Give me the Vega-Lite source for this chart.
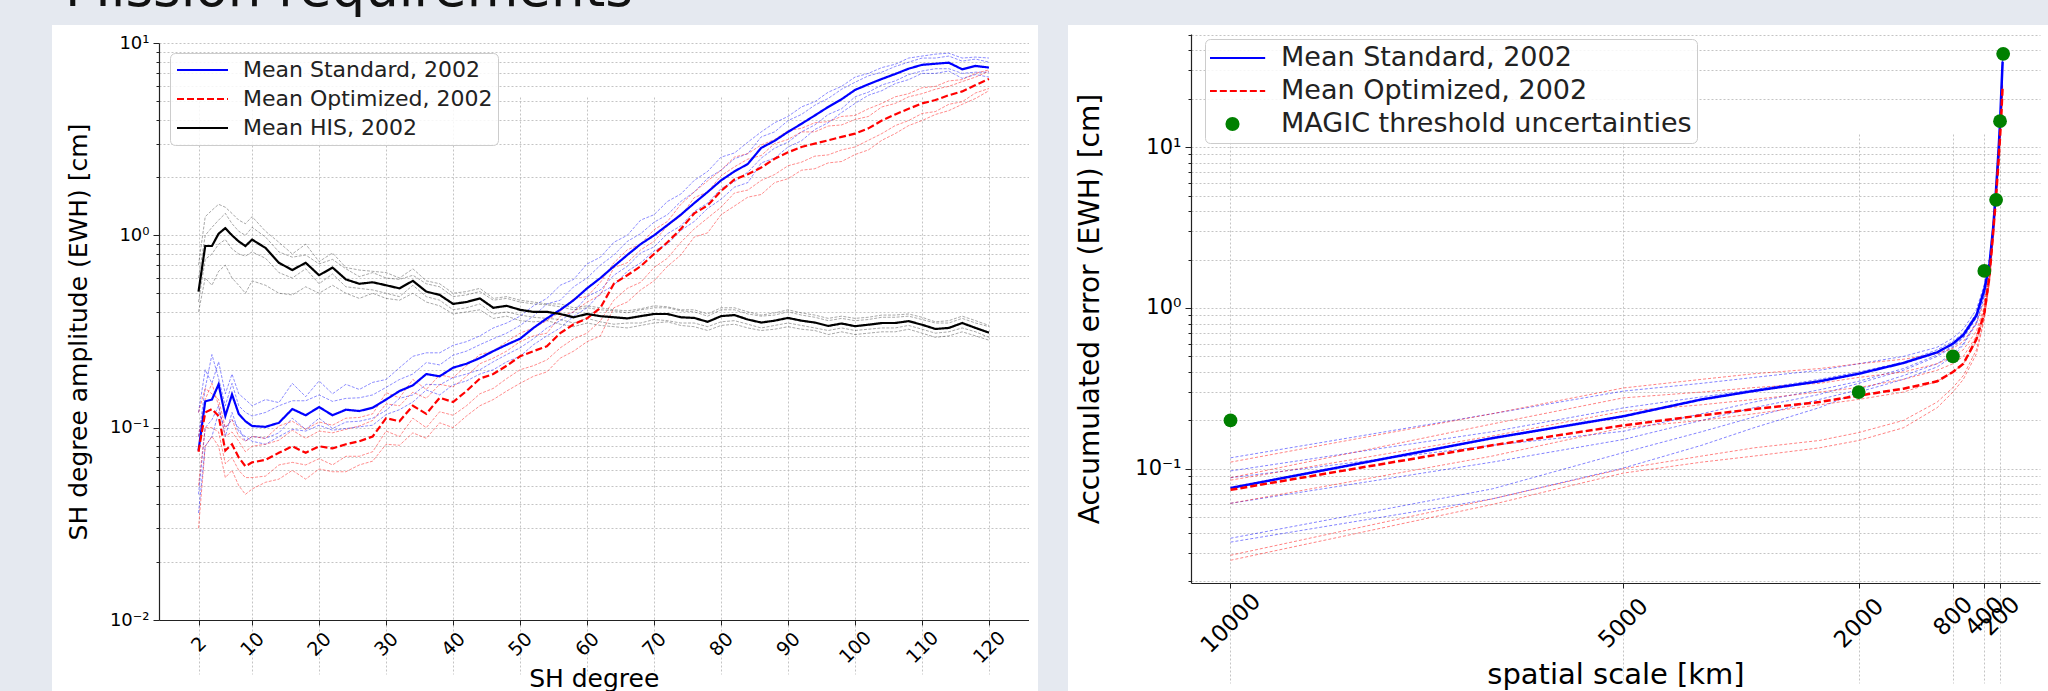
{
"$schema": "https://vega.github.io/schema/vega-lite/v6.json",
"background": "#e5e9f0",
"padding": {"left": 52, "top": -37, "right": 0, "bottom": 0},
"autosize": {"type": "pad"},
"title": {"text": "Mission requirements", "anchor": "start", "frame": "bounds", "fontSize": 53, "font": "DejaVu Sans", "fontWeight": "normal", "color": "#111", "offset": -35, "baseline": "alphabetic", "dx": 13},
"spacing": 30,
"bounds": "flush",
"resolve": {"scale": {"color": "independent", "strokeDash": "independent"}, "legend": {"color": "independent", "strokeDash": "independent"}},
"config": {
  "view": {"fill": "white", "stroke": null},
  "font": "DejaVu Sans",
  "axis": {"labelFont": "DejaVu Sans", "titleFont": "DejaVu Sans", "labelColor": "#000", "titleColor": "#000", "titleFontWeight": "normal", "domainColor": "#222", "domainWidth": 1.2, "tickColor": "#222", "tickWidth": 1, "gridColor": "#b5b5b5", "gridDash": [2, 2], "gridWidth": 0.8, "labelOverlap": false, "labelFlush": false, "labelBound": false},
  "legend": {"labelFont": "DejaVu Sans", "labelColor": "#222", "labelLimit": 0, "strokeColor": "#cccccc", "fillColor": "rgba(255,255,255,0.85)", "cornerRadius": 5}
},
"hconcat": [
{
  "width": 986, "height": 667,
  "data": {"values": [
{"d":2,"bm":0.076,"rm":0.075,"km":0.51,"b1":0.12,"b2":0.045,"b3":0.09,"b4":0.036,"r1":0.12,"r2":0.03,"r3":0.09,"r4":0.05,"k1":0.7,"k2":0.4,"k3":0.6,"k4":0.45},
{"d":3,"bm":0.137,"rm":0.12,"km":0.88,"b1":0.2,"b2":0.1,"b3":0.16,"b4":0.08,"r1":0.16,"r2":0.08,"r3":0.14,"r4":0.1,"k1":1.25,"k2":0.6,"k3":1.0,"k4":0.75},
{"d":4,"bm":0.14,"rm":0.125,"km":0.88,"b1":0.17,"b2":0.11,"b3":0.24,"b4":0.09,"r1":0.15,"r2":0.09,"r3":0.17,"r4":0.1,"k1":1.35,"k2":0.55,"k3":1.1,"k4":0.8},
{"d":5,"bm":0.168,"rm":0.115,"km":1.02,"b1":0.22,"b2":0.13,"b3":0.18,"b4":0.12,"r1":0.14,"r2":0.08,"r3":0.13,"r4":0.095,"k1":1.45,"k2":0.65,"k3":1.2,"k4":0.9},
{"d":6,"bm":0.115,"rm":0.076,"km":1.09,"b1":0.15,"b2":0.09,"b3":0.13,"b4":0.1,"r1":0.1,"r2":0.055,"r3":0.09,"r4":0.065,"k1":1.4,"k2":0.7,"k3":1.3,"k4":0.95},
{"d":7,"bm":0.149,"rm":0.082,"km":1.0,"b1":0.19,"b2":0.12,"b3":0.17,"b4":0.11,"r1":0.11,"r2":0.06,"r3":0.095,"r4":0.07,"k1":1.3,"k2":0.6,"k3":1.15,"k4":0.85},
{"d":8,"bm":0.118,"rm":0.07,"km":0.93,"b1":0.15,"b2":0.095,"b3":0.13,"b4":0.1,"r1":0.09,"r2":0.05,"r3":0.085,"r4":0.06,"k1":1.2,"k2":0.55,"k3":1.05,"k4":0.8},
{"d":9,"bm":0.108,"rm":0.063,"km":0.88,"b1":0.14,"b2":0.09,"b3":0.12,"b4":0.085,"r1":0.085,"r2":0.045,"r3":0.075,"r4":0.055,"k1":1.15,"k2":0.5,"k3":1.0,"k4":0.78},
{"d":10,"bm":0.102,"rm":0.066,"km":0.95,"b1":0.13,"b2":0.085,"b3":0.115,"b4":0.09,"r1":0.09,"r2":0.048,"r3":0.08,"r4":0.055,"k1":1.25,"k2":0.58,"k3":1.1,"k4":0.82},
{"d":12,"bm":0.101,"rm":0.068,"km":0.86,"b1":0.14,"b2":0.082,"b3":0.12,"b4":0.088,"r1":0.088,"r2":0.052,"r3":0.082,"r4":0.056,"k1":1.05,"k2":0.55,"k3":0.98,"k4":0.76},
{"d":14,"bm":0.106,"rm":0.074,"km":0.72,"b1":0.135,"b2":0.09,"b3":0.13,"b4":0.094,"r1":0.102,"r2":0.054,"r3":0.086,"r4":0.064,"k1":0.92,"k2":0.5,"k3":0.82,"k4":0.64},
{"d":16,"bm":0.125,"rm":0.08,"km":0.66,"b1":0.17,"b2":0.098,"b3":0.138,"b4":0.112,"r1":0.108,"r2":0.06,"r3":0.097,"r4":0.066,"k1":0.8,"k2":0.49,"k3":0.77,"k4":0.6},
{"d":18,"bm":0.116,"rm":0.074,"km":0.72,"b1":0.145,"b2":0.096,"b3":0.138,"b4":0.098,"r1":0.098,"r2":0.054,"r3":0.088,"r4":0.064,"k1":0.9,"k2":0.54,"k3":0.79,"k4":0.67},
{"d":20,"bm":0.128,"rm":0.08,"km":0.62,"b1":0.175,"b2":0.103,"b3":0.148,"b4":0.112,"r1":0.107,"r2":0.061,"r3":0.096,"r4":0.069,"k1":0.73,"k2":0.5,"k3":0.71,"k4":0.56},
{"d":22,"bm":0.116,"rm":0.078,"km":0.68,"b1":0.15,"b2":0.097,"b3":0.137,"b4":0.099,"r1":0.103,"r2":0.059,"r3":0.094,"r4":0.064,"k1":0.81,"k2":0.55,"k3":0.75,"k4":0.63},
{"d":24,"bm":0.124,"rm":0.082,"km":0.59,"b1":0.168,"b2":0.099,"b3":0.142,"b4":0.107,"r1":0.112,"r2":0.059,"r3":0.098,"r4":0.071,"k1":0.68,"k2":0.5,"k3":0.67,"k4":0.54},
{"d":26,"bm":0.122,"rm":0.085,"km":0.56,"b1":0.158,"b2":0.101,"b3":0.143,"b4":0.108,"r1":0.113,"r2":0.064,"r3":0.102,"r4":0.071,"k1":0.66,"k2":0.47,"k3":0.61,"k4":0.53},
{"d":28,"bm":0.127,"rm":0.09,"km":0.57,"b1":0.172,"b2":0.103,"b3":0.148,"b4":0.112,"r1":0.118,"r2":0.067,"r3":0.109,"r4":0.075,"k1":0.65,"k2":0.5,"k3":0.64,"k4":0.52},
{"d":30,"bm":0.14,"rm":0.112,"km":0.55,"b1":0.178,"b2":0.117,"b3":0.162,"b4":0.123,"r1":0.152,"r2":0.082,"r3":0.133,"r4":0.096,"k1":0.64,"k2":0.47,"k3":0.6,"k4":0.5},
{"d":32,"bm":0.155,"rm":0.108,"km":0.53,"b1":0.205,"b2":0.124,"b3":0.178,"b4":0.142,"r1":0.143,"r2":0.081,"r3":0.13,"r4":0.09,"k1":0.6,"k2":0.46,"k3":0.59,"k4":0.48},
{"d":34,"bm":0.166,"rm":0.13,"km":0.58,"b1":0.235,"b2":0.136,"b3":0.19,"b4":0.148,"r1":0.178,"r2":0.094,"r3":0.153,"r4":0.112,"k1":0.67,"k2":0.5,"k3":0.62,"k4":0.55},
{"d":36,"bm":0.19,"rm":0.118,"km":0.51,"b1":0.245,"b2":0.157,"b3":0.218,"b4":0.168,"r1":0.158,"r2":0.088,"r3":0.142,"r4":0.1,"k1":0.58,"k2":0.45,"k3":0.56,"k4":0.48},
{"d":38,"bm":0.185,"rm":0.143,"km":0.49,"b1":0.245,"b2":0.148,"b3":0.212,"b4":0.167,"r1":0.188,"r2":0.106,"r3":0.168,"r4":0.121,"k1":0.56,"k2":0.43,"k3":0.54,"k4":0.46},
{"d":40,"bm":0.205,"rm":0.136,"km":0.44,"b1":0.268,"b2":0.167,"b3":0.238,"b4":0.182,"r1":0.182,"r2":0.1,"r3":0.163,"r4":0.116,"k1":0.5,"k2":0.39,"k3":0.48,"k4":0.41},
{"d":42,"bm":0.215,"rm":0.155,"km":0.45,"b1":0.28,"b2":0.175,"b3":0.25,"b4":0.19,"r1":0.21,"r2":0.115,"r3":0.185,"r4":0.13,"k1":0.51,"k2":0.4,"k3":0.49,"k4":0.42},
{"d":44,"bm":0.23,"rm":0.18,"km":0.47,"b1":0.3,"b2":0.19,"b3":0.27,"b4":0.2,"r1":0.24,"r2":0.13,"r3":0.215,"r4":0.15,"k1":0.53,"k2":0.41,"k3":0.51,"k4":0.44},
{"d":46,"bm":0.25,"rm":0.19,"km":0.42,"b1":0.33,"b2":0.2,"b3":0.29,"b4":0.22,"r1":0.25,"r2":0.14,"r3":0.23,"r4":0.16,"k1":0.47,"k2":0.37,"k3":0.46,"k4":0.39},
{"d":48,"bm":0.27,"rm":0.21,"km":0.43,"b1":0.35,"b2":0.22,"b3":0.31,"b4":0.24,"r1":0.28,"r2":0.155,"r3":0.25,"r4":0.18,"k1":0.48,"k2":0.38,"k3":0.47,"k4":0.4},
{"d":50,"bm":0.29,"rm":0.235,"km":0.41,"b1":0.38,"b2":0.235,"b3":0.34,"b4":0.26,"r1":0.31,"r2":0.17,"r3":0.28,"r4":0.2,"k1":0.46,"k2":0.36,"k3":0.45,"k4":0.385},
{"d":52,"bm":0.33,"rm":0.25,"km":0.40,"b1":0.43,"b2":0.27,"b3":0.38,"b4":0.29,"r1":0.33,"r2":0.185,"r3":0.3,"r4":0.21,"k1":0.45,"k2":0.355,"k3":0.44,"k4":0.375},
{"d":54,"bm":0.37,"rm":0.265,"km":0.40,"b1":0.47,"b2":0.3,"b3":0.44,"b4":0.33,"r1":0.36,"r2":0.195,"r3":0.31,"r4":0.225,"k1":0.44,"k2":0.36,"k3":0.435,"k4":0.37},
{"d":56,"bm":0.41,"rm":0.31,"km":0.39,"b1":0.55,"b2":0.33,"b3":0.46,"b4":0.36,"r1":0.4,"r2":0.23,"r3":0.38,"r4":0.26,"k1":0.44,"k2":0.345,"k3":0.425,"k4":0.365},
{"d":58,"bm":0.46,"rm":0.345,"km":0.375,"b1":0.59,"b2":0.38,"b3":0.54,"b4":0.4,"r1":0.47,"r2":0.25,"r3":0.4,"r4":0.29,"k1":0.42,"k2":0.335,"k3":0.41,"k4":0.35},
{"d":60,"bm":0.53,"rm":0.37,"km":0.39,"b1":0.71,"b2":0.42,"b3":0.6,"b4":0.48,"r1":0.48,"r2":0.28,"r3":0.45,"r4":0.31,"k1":0.43,"k2":0.35,"k3":0.42,"k4":0.37},
{"d":62,"bm":0.6,"rm":0.42,"km":0.38,"b1":0.77,"b2":0.5,"b3":0.7,"b4":0.52,"r1":0.57,"r2":0.3,"r3":0.49,"r4":0.36,"k1":0.42,"k2":0.34,"k3":0.41,"k4":0.355},
{"d":64,"bm":0.69,"rm":0.56,"km":0.375,"b1":0.92,"b2":0.55,"b3":0.79,"b4":0.62,"r1":0.72,"r2":0.42,"r3":0.68,"r4":0.46,"k1":0.41,"k2":0.335,"k3":0.405,"k4":0.345},
{"d":66,"bm":0.79,"rm":0.62,"km":0.37,"b1":1.0,"b2":0.65,"b3":0.93,"b4":0.69,"r1":0.84,"r2":0.45,"r3":0.72,"r4":0.53,"k1":0.405,"k2":0.33,"k3":0.395,"k4":0.35},
{"d":68,"bm":0.9,"rm":0.69,"km":0.38,"b1":1.2,"b2":0.72,"b3":1.02,"b4":0.81,"r1":0.9,"r2":0.52,"r3":0.84,"r4":0.57,"k1":0.415,"k2":0.34,"k3":0.41,"k4":0.35},
{"d":70,"bm":1.0,"rm":0.8,"km":0.39,"b1":1.28,"b2":0.83,"b3":1.17,"b4":0.87,"r1":1.07,"r2":0.58,"r3":0.93,"r4":0.68,"k1":0.43,"k2":0.35,"k3":0.42,"k4":0.365},
{"d":72,"bm":1.13,"rm":0.92,"km":0.39,"b1":1.5,"b2":0.9,"b3":1.28,"b4":1.02,"r1":1.18,"r2":0.69,"r3":1.12,"r4":0.76,"k1":0.425,"k2":0.355,"k3":0.42,"k4":0.36},
{"d":74,"bm":1.28,"rm":1.08,"km":0.375,"b1":1.64,"b2":1.06,"b3":1.5,"b4":1.12,"r1":1.45,"r2":0.79,"r3":1.26,"r4":0.92,"k1":0.41,"k2":0.34,"k3":0.405,"k4":0.35},
{"d":76,"bm":1.47,"rm":1.3,"km":0.372,"b1":1.93,"b2":1.18,"b3":1.68,"b4":1.33,"r1":1.68,"r2":0.98,"r3":1.57,"r4":1.08,"k1":0.41,"k2":0.335,"k3":0.4,"k4":0.35},
{"d":78,"bm":1.68,"rm":1.43,"km":0.355,"b1":2.15,"b2":1.38,"b3":1.98,"b4":1.47,"r1":1.92,"r2":1.03,"r3":1.68,"r4":1.23,"k1":0.39,"k2":0.32,"k3":0.38,"k4":0.335},
{"d":80,"bm":1.93,"rm":1.7,"km":0.38,"b1":2.55,"b2":1.54,"b3":2.18,"b4":1.75,"r1":2.18,"r2":1.28,"r3":2.04,"r4":1.4,"k1":0.42,"k2":0.34,"k3":0.41,"k4":0.355},
{"d":82,"bm":2.15,"rm":1.95,"km":0.385,"b1":2.68,"b2":1.78,"b3":2.5,"b4":1.9,"r1":2.55,"r2":1.42,"r3":2.27,"r4":1.66,"k1":0.42,"k2":0.345,"k3":0.41,"k4":0.36},
{"d":84,"bm":2.35,"rm":2.08,"km":0.365,"b1":3.05,"b2":1.88,"b3":2.66,"b4":2.13,"r1":2.66,"r2":1.58,"r3":2.49,"r4":1.72,"k1":0.4,"k2":0.33,"k3":0.39,"k4":0.345},
{"d":86,"bm":2.85,"rm":2.25,"km":0.352,"b1":3.45,"b2":2.38,"b3":3.25,"b4":2.52,"r1":2.95,"r2":1.63,"r3":2.6,"r4":1.93,"k1":0.385,"k2":0.32,"k3":0.38,"k4":0.33},
{"d":88,"bm":3.1,"rm":2.5,"km":0.36,"b1":3.85,"b2":2.52,"b3":3.45,"b4":2.84,"r1":3.15,"r2":1.88,"r3":3.0,"r4":2.07,"k1":0.395,"k2":0.325,"k3":0.385,"k4":0.34},
{"d":90,"bm":3.45,"rm":2.7,"km":0.372,"b1":4.15,"b2":2.88,"b3":3.95,"b4":3.05,"r1":3.5,"r2":1.97,"r3":3.15,"r4":2.3,"k1":0.41,"k2":0.335,"k3":0.4,"k4":0.35},
{"d":92,"bm":3.8,"rm":2.88,"km":0.36,"b1":4.65,"b2":3.1,"b3":4.25,"b4":3.45,"r1":3.6,"r2":2.18,"r3":3.45,"r4":2.4,"k1":0.395,"k2":0.325,"k3":0.385,"k4":0.34},
{"d":94,"bm":4.2,"rm":3.0,"km":0.352,"b1":4.95,"b2":3.55,"b3":4.75,"b4":3.75,"r1":3.85,"r2":2.22,"r3":3.45,"r4":2.58,"k1":0.385,"k2":0.32,"k3":0.375,"k4":0.33},
{"d":96,"bm":4.65,"rm":3.12,"km":0.338,"b1":5.55,"b2":3.85,"b3":5.15,"b4":4.25,"r1":3.9,"r2":2.38,"r3":3.7,"r4":2.62,"k1":0.37,"k2":0.305,"k3":0.36,"k4":0.32},
{"d":98,"bm":5.1,"rm":3.25,"km":0.348,"b1":5.95,"b2":4.35,"b3":5.75,"b4":4.55,"r1":4.15,"r2":2.42,"r3":3.75,"r4":2.78,"k1":0.38,"k2":0.315,"k3":0.37,"k4":0.33},
{"d":100,"bm":5.7,"rm":3.38,"km":0.337,"b1":6.65,"b2":4.85,"b3":6.25,"b4":5.25,"r1":4.2,"r2":2.63,"r3":4.0,"r4":2.88,"k1":0.37,"k2":0.305,"k3":0.36,"k4":0.32},
{"d":102,"bm":6.1,"rm":3.6,"km":0.343,"b1":6.95,"b2":5.35,"b3":6.75,"b4":5.55,"r1":4.55,"r2":2.78,"r3":4.15,"r4":3.12,"k1":0.375,"k2":0.31,"k3":0.365,"k4":0.325},
{"d":104,"bm":6.5,"rm":3.95,"km":0.35,"b1":7.45,"b2":5.65,"b3":7.05,"b4":6.05,"r1":4.85,"r2":3.12,"r3":4.65,"r4":3.38,"k1":0.385,"k2":0.315,"k3":0.375,"k4":0.33},
{"d":106,"bm":6.9,"rm":4.25,"km":0.35,"b1":7.75,"b2":6.15,"b3":7.55,"b4":6.35,"r1":5.25,"r2":3.38,"r3":4.85,"r4":3.72,"k1":0.385,"k2":0.315,"k3":0.375,"k4":0.33},
{"d":108,"bm":7.35,"rm":4.55,"km":0.358,"b1":8.35,"b2":6.45,"b3":7.95,"b4":6.85,"r1":5.45,"r2":3.72,"r3":5.25,"r4":3.95,"k1":0.39,"k2":0.325,"k3":0.38,"k4":0.34},
{"d":110,"bm":7.7,"rm":4.85,"km":0.343,"b1":8.55,"b2":6.95,"b3":8.35,"b4":7.15,"r1":5.85,"r2":3.95,"r3":5.45,"r4":4.3,"k1":0.375,"k2":0.31,"k3":0.365,"k4":0.325},
{"d":112,"bm":7.8,"rm":5.05,"km":0.326,"b1":8.75,"b2":6.95,"b3":8.35,"b4":7.35,"r1":5.95,"r2":4.25,"r3":5.75,"r4":4.4,"k1":0.355,"k2":0.295,"k3":0.35,"k4":0.31},
{"d":114,"bm":7.9,"rm":5.35,"km":0.33,"b1":8.85,"b2":7.15,"b3":8.55,"b4":7.35,"r1":6.35,"r2":4.45,"r3":5.95,"r4":4.8,"k1":0.36,"k2":0.3,"k3":0.35,"k4":0.315},
{"d":116,"bm":7.3,"rm":5.6,"km":0.35,"b1":8.35,"b2":6.55,"b3":8.05,"b4":6.95,"r1":6.45,"r2":4.8,"r3":6.3,"r4":4.95,"k1":0.38,"k2":0.315,"k3":0.37,"k4":0.33},
{"d":118,"bm":7.6,"rm":6.05,"km":0.33,"b1":8.45,"b2":6.85,"b3":8.25,"b4":7.05,"r1":6.95,"r2":5.15,"r3":6.65,"r4":5.5,"k1":0.36,"k2":0.3,"k3":0.35,"k4":0.315},
{"d":120,"bm":7.45,"rm":6.5,"km":0.312,"b1":8.35,"b2":6.65,"b3":7.95,"b4":7.05,"r1":7.25,"r2":5.65,"r3":7.15,"r4":5.8,"k1":0.34,"k2":0.285,"k3":0.335,"k4":0.295}
  ]},
  "encoding": {
    "x": {"field": "d", "type": "quantitative",
      "scale": {"domain": [-3.9, 125.9], "range": [107, 976.5], "nice": false, "zero": false},
      "axis": {"values": [2, 10, 20, 30, 40, 50, 60, 70, 80, 90, 100, 110, 120], "offset": -72, "title": "SH degree", "titleFontSize": 25, "titlePadding": 0, "labelFontSize": 19, "labelAngle": -45, "labelAlign": "center", "labelBaseline": "middle", "labelPadding": {"condition": {"test": "datum.value < 100", "value": 19}, "value": 22}, "tickSize": 5, "grid": true}},
    "y": {"field": "v", "type": "quantitative",
      "scale": {"type": "log", "domain": [0.01, 10], "range": [595, 18], "nice": false},
      "axis": {"values": [0.01, 0.02, 0.03, 0.04, 0.05, 0.06, 0.07, 0.08, 0.09, 0.1, 0.2, 0.3, 0.4, 0.5, 0.6, 0.7, 0.8, 0.9, 1, 2, 3, 4, 5, 6, 7, 8, 9, 10], "offset": -107, "labelExpr": "datum.value == 10 ? '10¹' : datum.value == 1 ? '10⁰' : datum.value == 0.1 ? '10⁻¹' : datum.value == 0.01 ? '10⁻²' : ''", "labelFontSize": 18, "labelPadding": 4, "tickSize": {"condition": {"test": "datum.value == 0.01 || datum.value == 0.1 || datum.value == 1 || datum.value == 10", "value": 6}, "value": 3}, "title": "SH degree amplitude (EWH) [cm]", "titleFontSize": 25, "titlePadding": 18, "grid": true}}
  },
  "layer": [
    {"transform": [{"fold": ["b1", "b2", "b3", "b4"], "as": ["key", "v"]}], "mark": {"type": "line", "color": "#0000ff", "strokeWidth": 0.9, "opacity": 0.5, "strokeDash": [3, 1.5]}, "encoding": {"detail": {"field": "key", "type": "nominal"}}},
    {"transform": [{"fold": ["r1", "r2", "r3", "r4"], "as": ["key", "v"]}], "mark": {"type": "line", "color": "#ff0000", "strokeWidth": 0.9, "opacity": 0.5, "strokeDash": [3, 1.5]}, "encoding": {"detail": {"field": "key", "type": "nominal"}}},
    {"transform": [{"fold": ["k1", "k2", "k3", "k4"], "as": ["key", "v"]}], "mark": {"type": "line", "color": "#000000", "strokeWidth": 0.9, "opacity": 0.38, "strokeDash": [3, 1.5]}, "encoding": {"detail": {"field": "key", "type": "nominal"}}},
    {"transform": [{"fold": ["bm", "rm", "km"], "as": ["key", "v"]}], "mark": {"type": "line", "strokeWidth": 2.2},
     "encoding": {
       "color": {"field": "key", "type": "nominal", "scale": {"domain": ["bm", "rm", "km"], "range": ["#0000ff", "#ff0000", "#000000"]},
         "legend": {"title": null, "orient": "none", "legendX": 118, "legendY": 28, "symbolType": "stroke", "symbolSize": 2600, "symbolStrokeWidth": 2, "labelFontSize": 22, "labelOffset": 14, "padding": 5, "clipHeight": 24, "rowPadding": 5, "symbolOffset": 1, "labelExpr": "datum.label == 'bm' ? 'Mean Standard, 2002' : datum.label == 'rm' ? 'Mean Optimized, 2002' : 'Mean HIS, 2002'"}},
       "strokeDash": {"field": "key", "type": "nominal", "scale": {"domain": ["bm", "rm", "km"], "range": [[1, 0], [7, 3], [1, 0]]},
         "legend": {"title": null, "orient": "none", "legendX": 118, "legendY": 28, "symbolType": "stroke", "symbolSize": 2600, "symbolStrokeWidth": 2, "labelFontSize": 22, "labelOffset": 14, "padding": 5, "clipHeight": 24, "rowPadding": 5, "symbolOffset": 1, "labelExpr": "datum.label == 'bm' ? 'Mean Standard, 2002' : datum.label == 'rm' ? 'Mean Optimized, 2002' : 'Mean HIS, 2002'"}}
     }},
    {"data": {"values": [{}]}, "mark": {"type": "rule", "color": "#222", "strokeWidth": 1.2}, "encoding": {"x": {"datum": -3.9, "type": "quantitative"}, "x2": {"datum": 125.9}, "y": {"datum": 10, "type": "quantitative"}}},
    {"data": {"values": [{}]}, "mark": {"type": "rule", "color": "#222", "strokeWidth": 1.2}, "encoding": {"x": {"datum": 125.9, "type": "quantitative"}, "y": {"datum": 0.01, "type": "quantitative"}, "y2": {"datum": 10}}}
  ]
},
{
  "width": 980, "height": 667,
  "data": {"values": [
{"km":10000,"bm":0.076,"rm":0.074,"b1":0.117,"b2":0.097,"b3":0.088,"b4":0.061,"b5":0.037,"b6":0.035,"r1":0.11,"r2":0.088,"r3":0.085,"r4":0.061,"r5":0.029,"r6":0.027},
{"km":6667,"bm":0.155,"rm":0.14,"b1":0.22,"b2":0.17,"b3":0.14,"b4":0.11,"b5":0.075,"b6":0.065,"r1":0.22,"r2":0.19,"r3":0.16,"r4":0.12,"r5":0.065,"r6":0.06},
{"km":5000,"bm":0.212,"rm":0.186,"b1":0.304,"b2":0.239,"b3":0.171,"b4":0.152,"b5":0.126,"b6":0.101,"r1":0.318,"r2":0.276,"r3":0.228,"r4":0.18,"r5":0.1,"r6":0.094},
{"km":4000,"bm":0.27,"rm":0.215,"b1":0.34,"b2":0.28,"b3":0.22,"b4":0.2,"b5":0.17,"b6":0.14,"r1":0.36,"r2":0.3,"r3":0.25,"r4":0.2,"r5":0.12,"r6":0.11},
{"km":3333,"bm":0.305,"rm":0.235,"b1":0.37,"b2":0.31,"b3":0.26,"b4":0.24,"b5":0.21,"b6":0.18,"r1":0.39,"r2":0.32,"r3":0.27,"r4":0.22,"r5":0.135,"r6":0.12},
{"km":2500,"bm":0.35,"rm":0.26,"b1":0.41,"b2":0.36,"b3":0.31,"b4":0.29,"b5":0.27,"b6":0.24,"r1":0.42,"r2":0.34,"r3":0.3,"r4":0.25,"r5":0.15,"r6":0.135},
{"km":2000,"bm":0.39,"rm":0.285,"b1":0.45,"b2":0.4,"b3":0.35,"b4":0.34,"b5":0.31,"b6":0.3,"r1":0.45,"r2":0.37,"r3":0.32,"r4":0.27,"r5":0.168,"r6":0.15},
{"km":1429,"bm":0.455,"rm":0.315,"b1":0.5,"b2":0.46,"b3":0.42,"b4":0.41,"b5":0.38,"b6":0.36,"r1":0.48,"r2":0.4,"r3":0.36,"r4":0.3,"r5":0.2,"r6":0.18},
{"km":1000,"bm":0.53,"rm":0.35,"b1":0.57,"b2":0.55,"b3":0.51,"b4":0.5,"b5":0.45,"b6":0.43,"r1":0.52,"r2":0.45,"r3":0.41,"r4":0.35,"r5":0.26,"r6":0.24},
{"km":800,"bm":0.6,"rm":0.4,"b1":0.65,"b2":0.62,"b3":0.58,"b4":0.57,"b5":0.52,"b6":0.5,"r1":0.56,"r2":0.5,"r3":0.45,"r4":0.4,"r5":0.32,"r6":0.3},
{"km":667,"bm":0.68,"rm":0.45,"b1":0.74,"b2":0.7,"b3":0.66,"b4":0.65,"b5":0.6,"b6":0.59,"r1":0.62,"r2":0.55,"r3":0.5,"r4":0.45,"r5":0.38,"r6":0.36},
{"km":500,"bm":0.9,"rm":0.64,"b1":0.98,"b2":0.93,"b3":0.88,"b4":0.87,"b5":0.82,"b6":0.8,"r1":0.8,"r2":0.72,"r3":0.67,"r4":0.62,"r5":0.55,"r6":0.52},
{"km":400,"bm":1.3,"rm":0.93,"b1":1.4,"b2":1.35,"b3":1.28,"b4":1.25,"b5":1.2,"b6":1.18,"r1":1.1,"r2":1.02,"r3":0.98,"r4":0.93,"r5":0.88,"r6":0.85},
{"km":333,"bm":1.9,"rm":1.6,"b1":2.05,"b2":1.95,"b3":1.85,"b4":1.82,"b5":1.75,"b6":1.72,"r1":1.75,"r2":1.65,"r3":1.6,"r4":1.55,"r5":1.5,"r6":1.45},
{"km":286,"bm":3.2,"rm":3.0,"b1":3.4,"b2":3.3,"b3":3.1,"b4":3.05,"b5":3.0,"b6":2.95,"r1":3.2,"r2":3.1,"r3":3.0,"r4":2.95,"r5":2.85,"r6":2.8},
{"km":250,"bm":5.5,"rm":5.0,"b1":5.8,"b2":5.6,"b3":5.4,"b4":5.3,"b5":5.2,"b6":5.1,"r1":5.3,"r2":5.1,"r3":5.0,"r4":4.9,"r5":4.8,"r6":4.7},
{"km":222,"bm":9.0,"rm":7.8,"b1":9.5,"b2":9.2,"b3":8.8,"b4":8.7,"b5":8.6,"b6":8.5,"r1":8.2,"r2":8.0,"r3":7.8,"r4":7.6,"r5":7.5,"r6":7.4},
{"km":200,"bm":14,"rm":11.5,"b1":14.8,"b2":14.3,"b3":13.7,"b4":13.5,"b5":13.4,"b6":13.2,"r1":12,"r2":11.8,"r3":11.5,"r4":11.2,"r5":11,"r6":10.8},
{"km":182,"bm":23,"rm":16.5,"b1":24,"b2":23.5,"b3":22.5,"b4":22,"b5":22,"b6":21.5,"r1":17.3,"r2":17,"r3":16.5,"r4":16.2,"r5":16,"r6":15.7},
{"km":167,"bm":34,"rm":24,"b1":36,"b2":35,"b3":33,"b4":33,"b5":32.5,"b6":32,"r1":25,"r2":24.5,"r3":24,"r4":23.5,"r5":23,"r6":22.5}
  ]},
  "encoding": {
    "x": {"field": "km", "type": "quantitative",
      "scale": {"domain": [10503, -309], "range": [123, 972], "nice": false, "zero": false},
      "axis": {"values": [10000, 5000, 2000, 800, 400, 200], "format": "d", "offset": -109, "title": "spatial scale [km]", "titleFontSize": 29, "titlePadding": 3, "labelFontSize": 23, "labelAngle": -45, "labelAlign": "center", "labelBaseline": "middle", "labelPadding": {"condition": {"test": "datum.value < 1000", "value": 28}, "value": 35}, "tickSize": 5, "grid": true}},
    "y": {"field": "v", "type": "quantitative",
      "scale": {"type": "log", "domain": [0.0195, 50.5], "range": [558, 9], "nice": false},
      "axis": {"values": [0.02, 0.03, 0.04, 0.05, 0.06, 0.07, 0.08, 0.09, 0.1, 0.2, 0.3, 0.4, 0.5, 0.6, 0.7, 0.8, 0.9, 1, 2, 3, 4, 5, 6, 7, 8, 9, 10, 20, 30, 40, 50], "offset": -123, "labelExpr": "datum.value == 10 ? '10¹' : datum.value == 1 ? '10⁰' : datum.value == 0.1 ? '10⁻¹' : ''", "labelFontSize": 21, "labelPadding": 4, "tickSize": {"condition": {"test": "datum.value == 0.1 || datum.value == 1 || datum.value == 10", "value": 6}, "value": 3}, "title": "Accumulated error (EWH) [cm]", "titleFontSize": 28, "titlePadding": 30, "grid": true}}
  },
  "layer": [
    {"transform": [{"fold": ["b1", "b2", "b3", "b4", "b5", "b6"], "as": ["key", "v"]}], "mark": {"type": "line", "color": "#0000ff", "strokeWidth": 0.9, "opacity": 0.55, "strokeDash": [3, 2]}, "encoding": {"detail": {"field": "key", "type": "nominal"}}},
    {"transform": [{"fold": ["r1", "r2", "r3", "r4", "r5", "r6"], "as": ["key", "v"]}], "mark": {"type": "line", "color": "#ff0000", "strokeWidth": 0.9, "opacity": 0.55, "strokeDash": [3, 2]}, "encoding": {"detail": {"field": "key", "type": "nominal"}}},
    {"transform": [{"fold": ["bm", "rm"], "as": ["key", "v"]}], "mark": {"type": "line", "strokeWidth": 2.5},
     "encoding": {
       "color": {"field": "key", "type": "nominal", "scale": {"domain": ["bm", "rm", "mg"], "range": ["#0000ff", "#ff0000", "#008000"]},
         "legend": {"title": null, "orient": "none", "legendX": 137, "legendY": 14, "symbolType": "stroke", "symbolSize": 4270, "symbolStrokeWidth": 2, "labelFontSize": 27, "labelOffset": 35, "padding": 5, "clipHeight": 28, "rowPadding": 5, "symbolOffset": 9, "labelExpr": "datum.label == 'bm' ? 'Mean Standard, 2002' : datum.label == 'rm' ? 'Mean Optimized, 2002' : 'MAGIC threshold uncertainties'",
           "encode": {"symbols": {"update": {"shape": {"signal": "datum.value == 'mg' ? 'circle' : 'stroke'"}, "size": {"signal": "datum.value == 'mg' ? 200 : 4270"}, "fill": {"signal": "datum.value == 'mg' ? '#008000' : 'transparent'"}, "strokeWidth": {"signal": "datum.value == 'mg' ? 0 : 2"}}}}}},
       "strokeDash": {"field": "key", "type": "nominal", "scale": {"domain": ["bm", "rm", "mg"], "range": [[1, 0], [7, 3], [1, 0]]},
         "legend": {"title": null, "orient": "none", "legendX": 137, "legendY": 14, "symbolType": "stroke", "symbolSize": 4270, "symbolStrokeWidth": 2, "labelFontSize": 27, "labelOffset": 35, "padding": 5, "clipHeight": 28, "rowPadding": 5, "symbolOffset": 9, "labelExpr": "datum.label == 'bm' ? 'Mean Standard, 2002' : datum.label == 'rm' ? 'Mean Optimized, 2002' : 'MAGIC threshold uncertainties'",
           "encode": {"symbols": {"update": {"shape": {"signal": "datum.value == 'mg' ? 'circle' : 'stroke'"}, "size": {"signal": "datum.value == 'mg' ? 200 : 4270"}, "fill": {"signal": "datum.value == 'mg' ? '#008000' : 'transparent'"}, "strokeWidth": {"signal": "datum.value == 'mg' ? 0 : 2"}}}}}}
     }},
    {"data": {"values": [
      {"km": 10000, "v": 0.2, "key": "mg"},
      {"km": 2000, "v": 0.3, "key": "mg"},
      {"km": 800, "v": 0.5, "key": "mg"},
      {"km": 400, "v": 1.7, "key": "mg"},
      {"km": 250, "v": 4.7, "key": "mg"},
      {"km": 200, "v": 14.5, "key": "mg"},
      {"km": 160, "v": 38, "key": "mg"}
     ]},
     "mark": {"type": "point", "filled": true, "size": 190, "opacity": 1},
     "encoding": {"color": {"field": "key", "type": "nominal", "scale": {"domain": ["bm", "rm", "mg"], "range": ["#0000ff", "#ff0000", "#008000"]}}}},
    {"data": {"values": [{}]}, "mark": {"type": "rule", "color": "#222", "strokeWidth": 1.2}, "encoding": {"x": {"datum": 10503, "type": "quantitative"}, "x2": {"datum": -309}, "y": {"datum": 50.5, "type": "quantitative"}}},
    {"data": {"values": [{}]}, "mark": {"type": "rule", "color": "#222", "strokeWidth": 1.2}, "encoding": {"x": {"datum": -309, "type": "quantitative"}, "y": {"datum": 0.0195, "type": "quantitative"}, "y2": {"datum": 50.5}}}
  ]
}
]
}
